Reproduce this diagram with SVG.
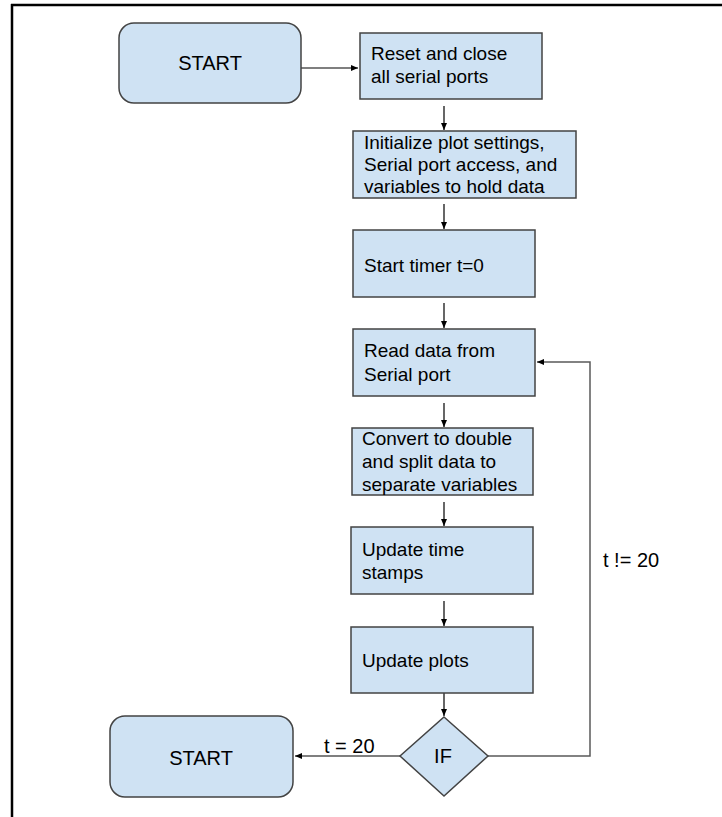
<svg xmlns="http://www.w3.org/2000/svg" width="722" height="817" viewBox="0 0 722 817">
<style>
.box{fill:#cfe2f3;stroke:#434343;stroke-width:1.5}
.t{font-family:"Liberation Sans",Arial,sans-serif;font-size:19px;fill:#000}
.tc{font-family:"Liberation Sans",Arial,sans-serif;font-size:20px;fill:#000;text-anchor:middle}
.lbl{font-family:"Liberation Sans",Arial,sans-serif;font-size:20px;fill:#000}
.c{fill:none;stroke:#000;stroke-width:1.2}
.cg{fill:none;stroke:#595959;stroke-width:1.5}
</style>
<defs>
<marker id="ah" markerWidth="8" markerHeight="8" refX="7" refY="4" orient="auto" markerUnits="userSpaceOnUse">
<path d="M0,1 L7,4 L0,7 Z" fill="#000"/>
</marker>
</defs>
<rect width="722" height="817" fill="#fff"/>
<g id="frame">
<line x1="11" y1="5" x2="722" y2="5" stroke="#000" stroke-width="2.5"/>
<line x1="12" y1="4" x2="12" y2="817" stroke="#000" stroke-width="2.5"/>
</g>
<g id="connectors">
<line class="c" x1="301" y1="68" x2="358" y2="68" marker-end="url(#ah)"/>
<line class="c" x1="444" y1="106" x2="444" y2="130" marker-end="url(#ah)"/>
<line class="c" x1="444" y1="204" x2="444" y2="229" marker-end="url(#ah)"/>
<line class="c" x1="444" y1="303" x2="444" y2="328" marker-end="url(#ah)"/>
<line class="c" x1="444" y1="403" x2="444" y2="427" marker-end="url(#ah)"/>
<line class="c" x1="444" y1="502" x2="444" y2="526" marker-end="url(#ah)"/>
<line class="c" x1="444" y1="601" x2="444" y2="626" marker-end="url(#ah)"/>
<line class="c" x1="444" y1="693" x2="444" y2="716" marker-end="url(#ah)"/>
<line class="c" x1="400" y1="756" x2="295" y2="756" marker-end="url(#ah)"/>
<polyline class="cg" points="488,756 590,756 590,362 537,362" marker-end="url(#ah)"/>
<text class="lbl" x="324" y="753">t = 20</text>
<text class="lbl" x="603" y="567">t != 20</text>
</g>
<g id="start1">
<rect class="box" x="119" y="23" width="182" height="80" rx="15"/>
<text class="tc" x="210" y="70">START</text>
</g>
<g id="reset">
<rect class="box" x="360" y="33" width="182" height="66"/>
<text class="t" x="371" y="60">Reset and close</text>
<text class="t" x="371" y="83">all serial ports</text>
</g>
<g id="init">
<rect class="box" x="353" y="131" width="223" height="67"/>
<text class="t" x="364" y="149">Initialize plot settings,</text>
<text class="t" x="364" y="171">Serial port access, and</text>
<text class="t" x="364" y="193">variables to hold data</text>
</g>
<g id="timer">
<rect class="box" x="353" y="230" width="182" height="67"/>
<text class="t" x="364" y="272">Start timer t=0</text>
</g>
<g id="read">
<rect class="box" x="353" y="329" width="182" height="67"/>
<text class="t" x="364" y="357">Read data from</text>
<text class="t" x="364" y="381">Serial port</text>
</g>
<g id="convert">
<rect class="box" x="352" y="428" width="181" height="67"/>
<text class="t" x="362" y="445">Convert to double</text>
<text class="t" x="362" y="468">and split data to</text>
<text class="t" x="362" y="491">separate variables</text>
</g>
<g id="updatetime">
<rect class="box" x="351" y="527" width="182" height="67"/>
<text class="t" x="362" y="556">Update time</text>
<text class="t" x="362" y="579">stamps</text>
</g>
<g id="updateplots">
<rect class="box" x="351" y="627" width="182" height="66"/>
<text class="t" x="362" y="667">Update plots</text>
</g>
<g id="if">
<polygon class="box" points="444,717 488,756 444,796 400,756"/>
<text class="tc" x="443" y="763">IF</text>
</g>
<g id="start2">
<rect class="box" x="110" y="716" width="183" height="81" rx="15"/>
<text class="tc" x="201" y="765">START</text>
</g>
</svg>
